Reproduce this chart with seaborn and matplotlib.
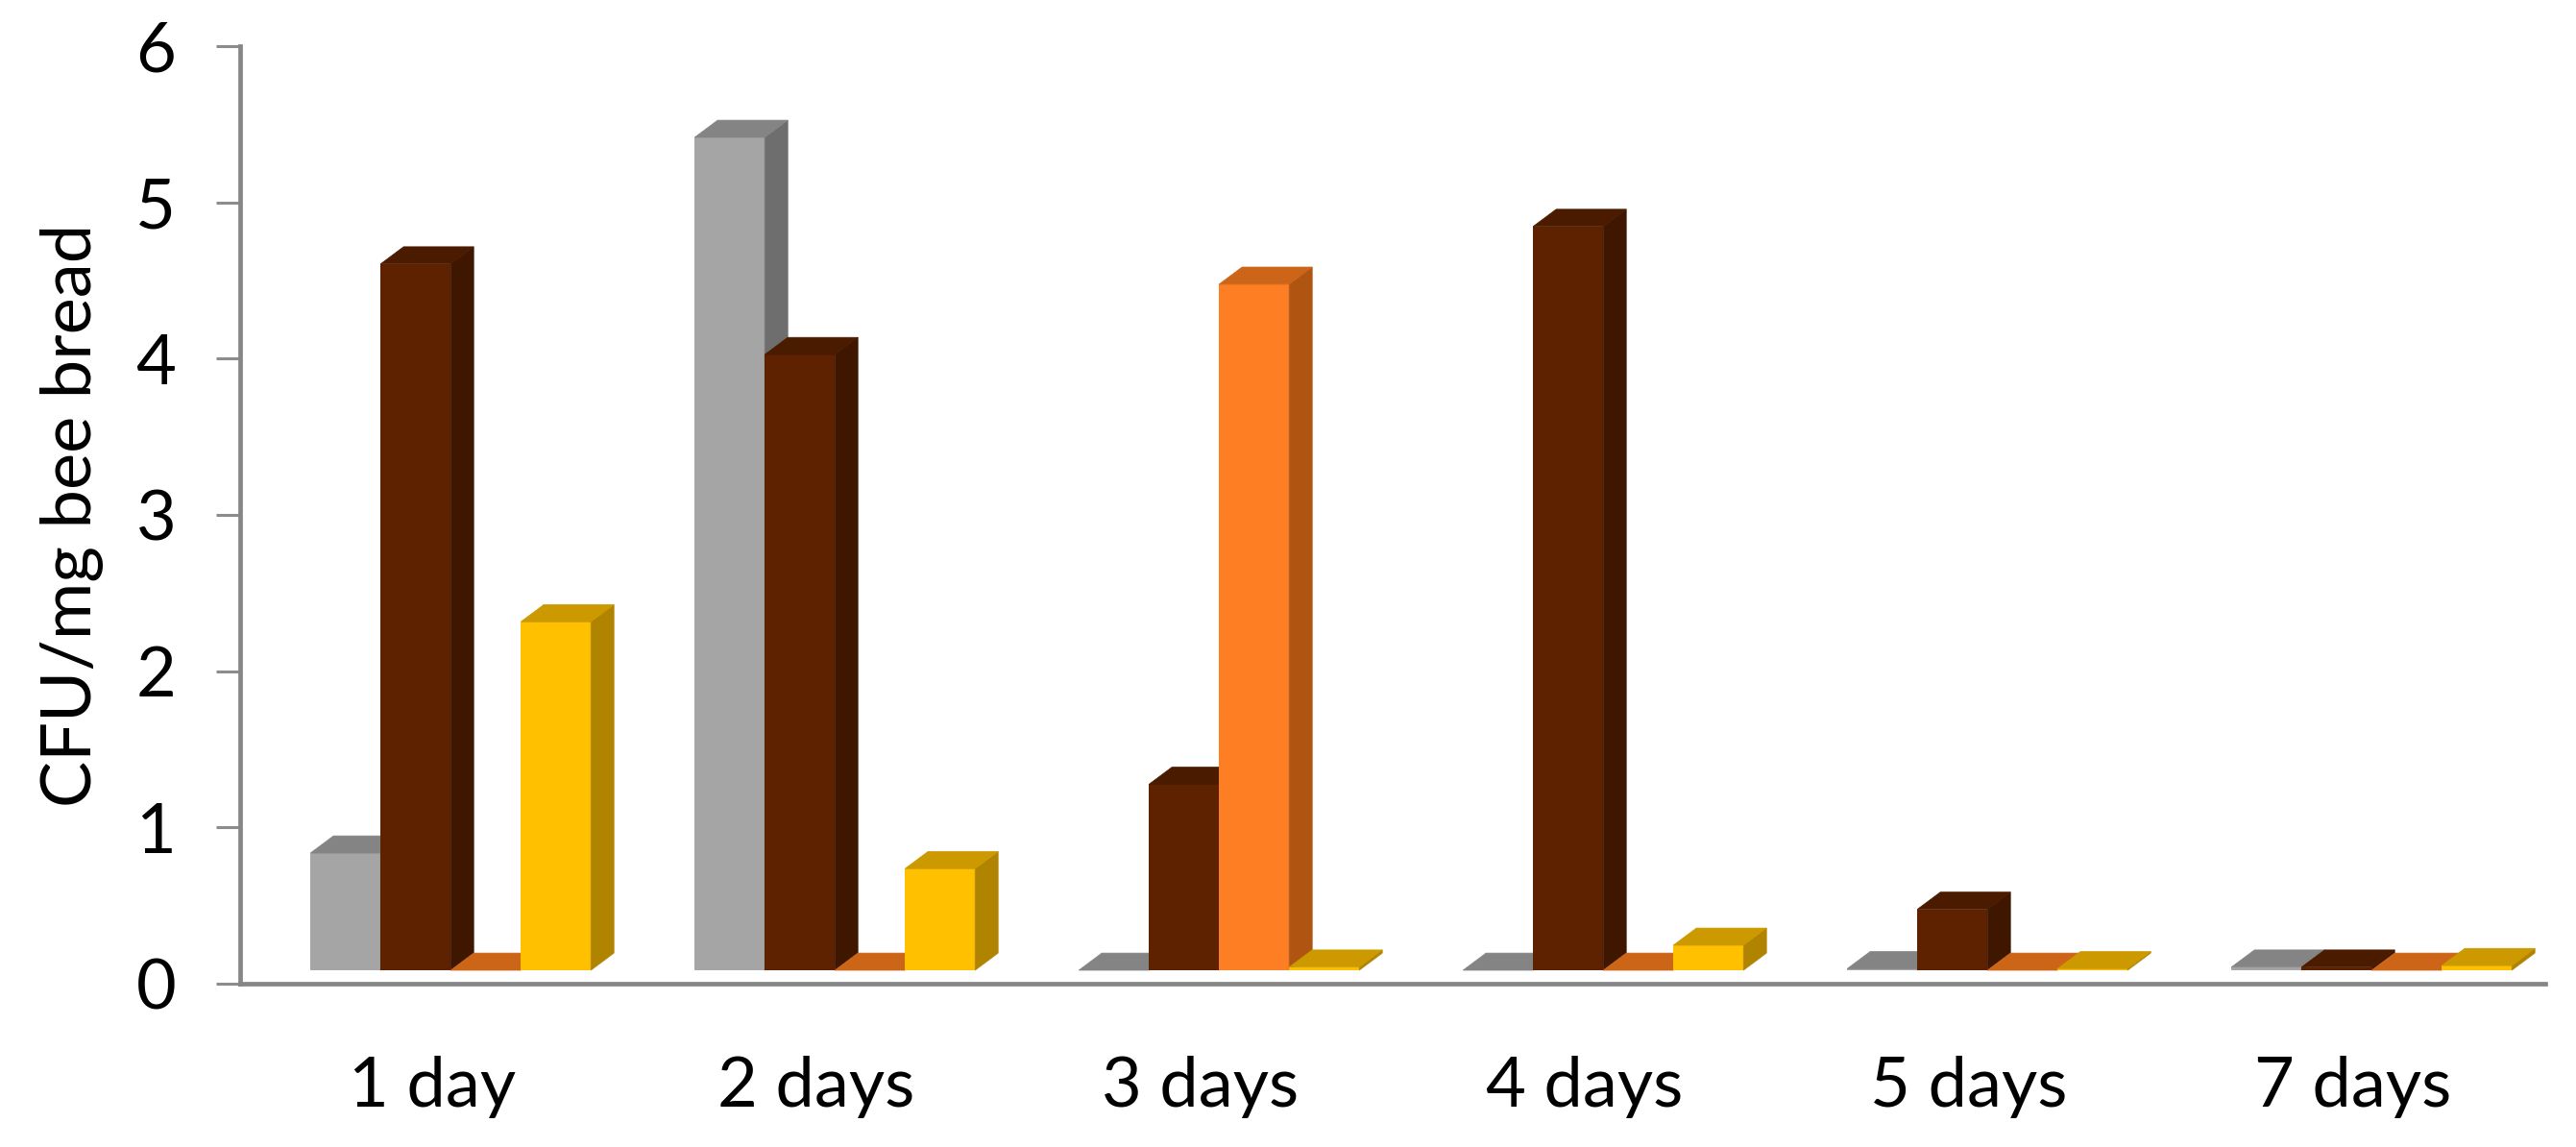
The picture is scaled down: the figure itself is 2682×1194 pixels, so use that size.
#!/usr/bin/env python
# -*- coding: utf-8 -*-
"""CFU per mg of bee bread, pseudo-3D grouped columns"""

import pandas as pd
import seaborn as sns
import matplotlib.pyplot as plt
from matplotlib.patches import Polygon

# Chart values
days = ['1 day', '2 days', '3 days', '4 days', '5 days', '7 days']
series_names = ['grey', 'brown', 'orange', 'yellow']
grey_values = [0.75, 5.33, 0.0, 0.0, 0.01, 0.02]
brown_values = [4.52, 3.94, 1.19, 4.76, 0.39, 0.02]
orange_values = [0.0, 0.0, 4.39, 0.0, 0.0, 0.0]
yellow_values = [2.23, 0.65, 0.02, 0.16, 0.01, 0.03]
y_ticks = [0, 1, 2, 3, 4, 5, 6]

# Front, top and side colour of each series
front_colors = ['#A5A5A5', '#5E2200', '#FD7E23', '#FFC000']
top_colors = ['#848484', '#4B1B00', '#CC6518', '#CC9900']
side_colors = ['#6E6E6E', '#3F1600', '#B05412', '#B08400']

# Long table for seaborn
rows = []
for name, vals in zip(series_names, [grey_values, brown_values,
                                     orange_values, yellow_values]):
    for day, val in zip(days, vals):
        rows.append({'day': day, 'series': name, 'value': val})
data = pd.DataFrame(rows)

sns.set_style('white')
plt.rcParams['font.family'] = ['Lato', 'DejaVu Sans']

fig = plt.figure(figsize=(26.82, 11.94), dpi=100)
ax = fig.add_axes([250 / 2682, 1 - 1024 / 1194, 2400 / 2682, 976 / 1194])

sns.barplot(data=data, x='day', y='value', hue='series', order=days,
            hue_order=series_names, palette=front_colors, saturation=1,
            errorbar=None, width=0.73, gap=0, legend=False, linewidth=0,
            ax=ax)

# Move the columns off the floor and add the depth faces
shift_x = 0.048
floor = 0.086
depth_x = 0.06
depth_y = 0.11
per_series = len(days)
for i, bar in enumerate(list(ax.patches)):
    s = i // per_series
    x0 = bar.get_x() + shift_x
    w = bar.get_width()
    h = bar.get_height()
    bar.set_x(x0)
    bar.set_y(floor)
    bar.set_zorder(3 + s)
    x1 = x0 + w
    y0 = floor
    y1 = floor + h
    top = [(x0, y1), (x1, y1), (x1 + depth_x, y1 + depth_y),
           (x0 + depth_x, y1 + depth_y)]
    side = [(x1, y0), (x1 + depth_x, y0 + depth_y),
            (x1 + depth_x, y1 + depth_y), (x1, y1)]
    ax.add_patch(Polygon(side, closed=True, facecolor=side_colors[s],
                         edgecolor=side_colors[s], linewidth=0.5,
                         zorder=3 + s))
    ax.add_patch(Polygon(top, closed=True, facecolor=top_colors[s],
                         edgecolor=top_colors[s], linewidth=0.5,
                         zorder=3 + s))

# Axes
ax.set_xlim(-0.5, 5.5)
ax.set_ylim(0, 6)
ax.set_yticks(y_ticks)
ax.set_xlabel('')
ax.set_ylabel('CFU/mg bee bread', fontsize=52, color='black', labelpad=24)
ax.tick_params(axis='y', length=18, width=2.2, color='#8C8C8C', pad=30,
               labelsize=52, labelcolor='black', left=True)
ax.tick_params(axis='x', length=0, pad=54, labelsize=52, labelcolor='black')

sns.despine(ax=ax)
for side_name in ['left', 'bottom']:
    ax.spines[side_name].set_color('#868686')
    ax.spines[side_name].set_linewidth(3.4)

fig.savefig('out.png', dpi=100, facecolor='white')
